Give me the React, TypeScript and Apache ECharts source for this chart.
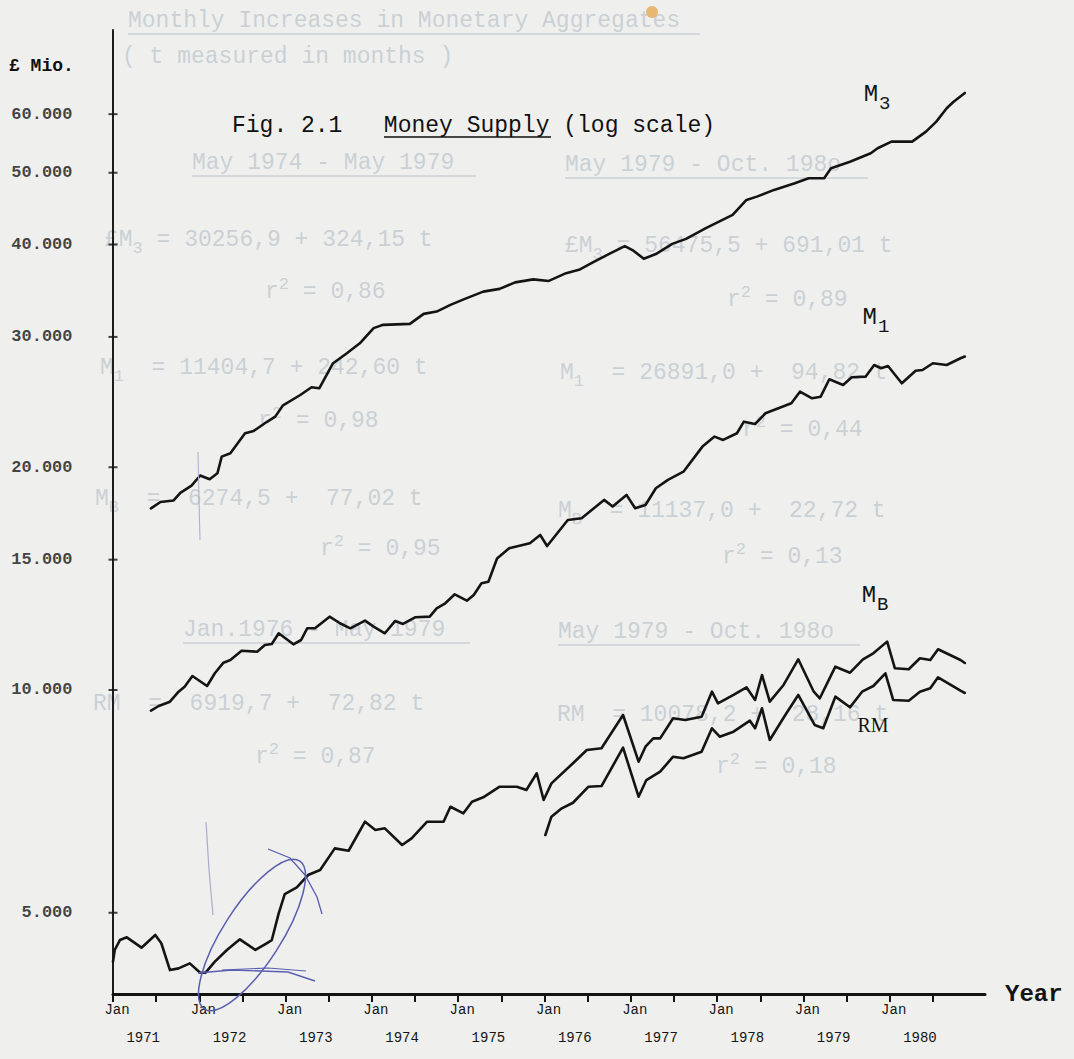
import React, { useEffect, useRef } from "react";
import * as echarts from "echarts";

// ---------------- data (values in £ million, dates in decimal years) ----------------
const m3Dates = [1971.44, 1971.55, 1971.70, 1971.78, 1971.91, 1972.01, 1972.12, 1972.21, 1972.26, 1972.36,
  1972.53, 1972.63, 1972.78, 1972.88, 1972.97, 1973.17, 1973.30, 1973.39, 1973.55, 1973.71,
  1973.86, 1974.02, 1974.13, 1974.44, 1974.60, 1974.75, 1974.91, 1975.07, 1975.29, 1975.48,
  1975.66, 1975.87, 1976.05, 1976.25, 1976.40, 1976.56, 1976.75, 1976.93, 1977.03, 1977.15,
  1977.29, 1977.48, 1977.64, 1977.87, 1978.18, 1978.34, 1978.46, 1978.66, 1978.90, 1979.06,
  1979.24, 1979.32, 1979.54, 1979.78, 1979.86, 1980.02, 1980.26, 1980.42, 1980.54, 1980.66,
  1980.74, 1980.87];
const m3Values = [17600, 17950, 18030, 18470, 18890, 19490, 19270, 19630, 20670, 20890,
  22230, 22390, 23020, 23410, 24250, 25040, 25650, 25570, 27640, 28510,
  29410, 30830, 31150, 31240, 32230, 32460, 33140, 33740, 34540, 34840,
  35550, 35880, 35710, 36580, 36960, 37830, 38840, 39800, 39230, 38270,
  38820, 40070, 40700, 42080, 43850, 45950, 46420, 47400, 48400, 49160,
  49160, 50700, 51750, 53120, 53960, 55080, 55080, 56820, 58620, 61110,
  62370, 64090];

const m1Dates = [1971.44, 1971.53, 1971.66, 1971.76, 1971.83, 1971.92, 1972.09, 1972.18, 1972.28, 1972.36,
  1972.49, 1972.67, 1972.76, 1972.84, 1972.92, 1973.09, 1973.18, 1973.25, 1973.34, 1973.51,
  1973.63, 1973.75, 1973.92, 1974.02, 1974.15, 1974.27, 1974.36, 1974.50, 1974.67, 1974.75,
  1974.85, 1974.96, 1975.10, 1975.18, 1975.27, 1975.35, 1975.45, 1975.59, 1975.83, 1975.95,
  1976.03, 1976.27, 1976.43, 1976.69, 1976.79, 1976.95, 1977.05, 1977.17, 1977.29, 1977.43,
  1977.61, 1977.83, 1977.97, 1978.07, 1978.23, 1978.31, 1978.44, 1978.56, 1978.86, 1978.96,
  1979.10, 1979.20, 1979.30, 1979.46, 1979.56, 1979.72, 1979.82, 1979.90, 1979.98, 1980.14,
  1980.30, 1980.38, 1980.50, 1980.66, 1980.82, 1980.87];
const m1Values = [9376, 9514, 9642, 9947, 10100, 10445, 10125, 10533, 10887, 10978,
  11300, 11265, 11500, 11538, 11930, 11527, 11683, 12116, 12116, 12563,
  12308, 12116, 12407, 12177, 11930, 12396, 12281, 12539, 12563, 12894,
  13096, 13468, 13203, 13439, 13937, 14007, 15055, 15540, 15784, 16198,
  15651, 16970, 17060, 18067, 17694, 18350, 17605, 17783, 18736, 19226,
  19724, 21325, 21998, 21773, 22232, 23045, 22880, 23656, 24403, 25299,
  24785, 24909, 26295, 25833, 26460, 26509, 27492, 27211, 27407, 25971,
  27008, 27067, 27638, 27492, 28070, 28228];

const mbDates = [1971.00, 1971.02, 1971.08, 1971.16, 1971.33, 1971.49, 1971.56, 1971.66, 1971.76, 1971.89,
  1972.01, 1972.07, 1972.18, 1972.32, 1972.47, 1972.65, 1972.78, 1972.84, 1972.92, 1972.99,
  1973.13, 1973.26, 1973.40, 1973.57, 1973.73, 1973.92, 1974.04, 1974.15, 1974.35, 1974.46,
  1974.64, 1974.83, 1974.91, 1975.06, 1975.16, 1975.29, 1975.48, 1975.68, 1975.79, 1975.91,
  1975.99, 1976.08, 1976.33, 1976.49, 1976.66, 1976.91, 1977.09, 1977.17, 1977.26, 1977.34,
  1977.49, 1977.63, 1977.82, 1977.94, 1978.01, 1978.19, 1978.34, 1978.44, 1978.52, 1978.61,
  1978.77, 1978.94, 1979.12, 1979.19, 1979.37, 1979.54, 1979.69, 1979.81, 1979.97, 1980.06,
  1980.22, 1980.35, 1980.47, 1980.56, 1980.82, 1980.87];
const mbValues = [4294, 4453, 4593, 4632, 4485, 4666, 4547, 4183, 4205, 4271,
  4148, 4148, 4294, 4453, 4603, 4453, 4547, 4593, 4991, 5299,
  5411, 5623, 5711, 6109, 6064, 6637, 6468, 6502, 6173, 6303,
  6637, 6637, 6954, 6813, 7063, 7161, 7401, 7401, 7325, 7717,
  7101, 7479, 7960, 8297, 8341, 9252, 8000, 8383, 8603, 8603,
  9157, 9109, 9203, 9947, 9594, 9846, 10084, 9694, 10478, 9642,
  10157, 11002, 9947, 9745, 10752, 10553, 11002, 11210, 11624, 10698,
  10665, 11037, 10978, 11350, 10978, 10877];

const rmDates = [1976.01, 1976.08, 1976.20, 1976.33, 1976.51, 1976.66, 1976.91, 1977.09, 1977.18, 1977.34,
  1977.49, 1977.61, 1977.82, 1977.94, 1978.03, 1978.19, 1978.38, 1978.44, 1978.52, 1978.61,
  1978.79, 1978.94, 1979.13, 1979.23, 1979.37, 1979.54, 1979.68, 1979.81, 1979.95, 1980.04,
  1980.22, 1980.35, 1980.47, 1980.56, 1980.82, 1980.87];
const rmValues = [6368, 6742, 6920, 7041, 7401, 7417, 8357, 7175, 7556, 7756,
  8125, 8085, 8253, 8877, 8647, 8783, 9089, 8877, 9447, 8558,
  9252, 9846, 8968, 8877, 9794, 9476, 9947, 10125, 10533, 9694,
  9672, 9947, 10053, 10403, 9978, 9907];

const yTickValues = [5000, 10000, 15000, 20000, 30000, 40000, 50000, 60000];
const yTickLabels = ["5.000", "10.000", "15.000", "20.000", "30.000", "40.000", "50.000", "60.000"];
const xTickValues = [1971, 1971.5, 1972, 1972.5, 1973, 1973.5, 1974, 1974.5, 1975, 1975.5,
  1976, 1976.5, 1977, 1977.5, 1978, 1978.5, 1979, 1979.5, 1980, 1980.5];
const xLabelYears = [1971, 1972, 1973, 1974, 1975, 1976, 1977, 1978, 1979, 1980];
// the year numbers are typed a few months to the right of each "Jan"
const yearLabelShift = 0.35;

// --------------------------------------------------------------------------------------
const MONO = '"Liberation Mono", "DejaVu Sans Mono", monospace';
const INK = "#141414";
const GHOST = "#cbd0d5";
const PEN = "#5a5eae";

const zip = (d: number[], v: number[]) => {
  const n = Math.min(d.length, v.length);
  const out: number[][] = [];
  for (let i = 0; i < n; i++) out.push([d[i], v[i]]);
  return out;
};

const subRich = (size: number, sub: number) => ({
  m: { fontSize: size, fontFamily: MONO, color: INK, lineHeight: size + 2 },
  s: { fontSize: sub, fontFamily: MONO, color: INK, lineHeight: sub + 2, padding: [18, 0, 0, 1] },
  r: { fontSize: 20, fontFamily: '"Liberation Serif", serif', color: INK },
});

const seriesLabel = (coord: number[], text: string) => ({
  symbol: "circle",
  symbolSize: 1,
  silent: true,
  itemStyle: { color: "rgba(0,0,0,0)" },
  label: {
    show: true,
    position: "inside",
    formatter: text,
    rich: subRich(24, 19),
  },
  data: [{ coord }],
});

const lineSeries = (name: string, data: number[][], mark: any) => ({
  type: "line",
  name,
  data,
  symbol: "none",
  showSymbol: false,
  smooth: false,
  lineStyle: { color: INK, width: 2.6, join: "round", cap: "round" },
  markPoint: mark,
  z: 3,
});

const ghostRich = {
  n: { fontSize: 23, fontFamily: MONO, fill: GHOST, color: GHOST },
  s: { fontSize: 17, fontFamily: MONO, fill: GHOST, color: GHOST, padding: [16, 0, 0, 0] },
  p: { fontSize: 17, fontFamily: MONO, fill: GHOST, color: GHOST, padding: [0, 0, 16, 0] },
};

const gText = (x: number, y: number, text: string) => ({
  type: "text",
  x,
  y,
  z: 0,
  silent: true,
  style: {
    text: text.indexOf("{") >= 0 ? text : `{n|${text}}`,
    rich: ghostRich,
    align: "left",
    verticalAlign: "middle",
    textAlign: "left",
    textVerticalAlign: "middle",
  },
});

const gLine = (x1: number, x2: number, y: number, color = GHOST, w = 1.6) => ({
  type: "line",
  z: 0,
  silent: true,
  shape: { x1, y1: y, x2, y2: y },
  style: { stroke: color, lineWidth: w },
});

const plainText = (x: number, y: number, text: string, size: number, weight = "normal", color = INK) => ({
  type: "text",
  x,
  y,
  z: 10,
  silent: true,
  style: {
    text,
    fill: color,
    fontSize: size,
    fontFamily: MONO,
    fontWeight: weight,
    align: "left",
    verticalAlign: "middle",
    textAlign: "left",
    textVerticalAlign: "middle",
  },
});

export default function App() {
  const ref = useRef<HTMLDivElement | null>(null);

  useEffect(() => {
    if (!ref.current) return;
    document.body.style.margin = "0";
    document.body.style.background = "#eff0ee";
    const chart = echarts.init(ref.current, undefined, { renderer: "svg" });

    const graphics: any[] = [
      // faint text showing through from the reverse page
      gText(128, 21, "Monthly Increases in Monetary Aggregates"),
      gLine(128, 700, 34),
      gText(122, 57, "( t measured in months )"),
      gText(192, 163, "May 1974 - May 1979"),
      gLine(192, 476, 176),
      gText(565, 165, "May 1979 - Oct. 198o"),
      gLine(565, 868, 178),
      gText(105, 240, "{n|£M}{s|3}{n| = 30256,9 + 324,15 t}"),
      gText(265, 292, "{n|r}{p|2}{n| = 0,86}"),
      gText(565, 246, "{n|£M}{s|3}{n| = 56475,5 + 691,01 t}"),
      gText(727, 300, "{n|r}{p|2}{n| = 0,89}"),
      gText(100, 368, "{n|M}{s|1}{n|  = 11404,7 + 242,60 t}"),
      gText(258, 421, "{n|r}{p|2}{n| = 0,98}"),
      gText(560, 373, "{n|M}{s|1}{n|  = 26891,0 +  94,82 t}"),
      gText(742, 430, "{n|r}{p|2}{n| = 0,44}"),
      gText(95, 499, "{n|M}{s|B}{n|  =  6274,5 +  77,02 t}"),
      gText(320, 549, "{n|r}{p|2}{n| = 0,95}"),
      gText(558, 511, "{n|M}{s|B}{n|  = 11137,0 +  22,72 t}"),
      gText(722, 557, "{n|r}{p|2}{n| = 0,13}"),
      gText(183, 630, "Jan.1976 - May 1979"),
      gLine(183, 470, 643),
      gText(558, 632, "May 1979 - Oct. 198o"),
      gLine(558, 860, 645),
      gText(93, 704, "RM  =  6919,7 +  72,82 t"),
      gText(255, 757, "{n|r}{p|2}{n| = 0,87}"),
      gText(557, 715, "RM  = 10078,2 +  28,16 t"),
      gText(716, 767, "{n|r}{p|2}{n| = 0,18}"),

      // title
      plainText(232, 126, "Fig. 2.1   Money Supply (log scale)", 23, "normal", "#111"),
      { type: "line", z: 10, silent: true, shape: { x1: 384, y1: 137, x2: 551, y2: 137 }, style: { stroke: "#111", lineWidth: 1.6 } },
      plainText(9, 66, "£ Mio.", 18, "bold", "#111"),

      // stain
      { type: "circle", z: 1, silent: true, shape: { cx: 652, cy: 12, r: 6 }, style: { fill: "#e6b872" } },

      // blue pen annotations
      {
        type: "ellipse", z: 6, silent: true, x: 252, y: 935, rotation: 1.0,
        shape: { cx: 0, cy: 0, rx: 88, ry: 29 },
        style: { fill: "none", stroke: PEN, lineWidth: 1.5 },
      },
      { type: "polyline", z: 6, silent: true, shape: { points: [[268, 849], [290, 858], [305, 875], [317, 897], [322, 914]] }, style: { stroke: PEN, lineWidth: 1.3, fill: "none" } },
      { type: "polyline", z: 6, silent: true, shape: { points: [[198, 973], [232, 970], [288, 972], [315, 981]] }, style: { stroke: PEN, lineWidth: 1.4, fill: "none" } },
      { type: "polyline", z: 6, silent: true, shape: { points: [[222, 970], [268, 968], [306, 971]] }, style: { stroke: PEN, lineWidth: 1.2, fill: "none" } },
      { type: "polyline", z: 6, silent: true, shape: { points: [[206, 822], [209, 870], [213, 915]] }, style: { stroke: "#a6acd0", lineWidth: 1.2, fill: "none" } },
      { type: "polyline", z: 6, silent: true, shape: { points: [[198, 452], [199, 500], [200, 540]] }, style: { stroke: "#aab2cf", lineWidth: 1.1, fill: "none" } },
    ];

    const option: any = {
      animation: false,
      backgroundColor: "#eff0ee",
      grid: { left: 113, top: 30, width: 872, height: 964, containLabel: false },
      xAxis: [
        {
          type: "value",
          min: 1971,
          max: 1981.104,
          position: "bottom",
          name: "Year",
          nameLocation: "end",
          nameGap: 20,
          nameTextStyle: { fontSize: 24, fontFamily: MONO, fontWeight: "bold", color: INK, verticalAlign: "middle" },
          axisLine: { show: true, onZero: false, lineStyle: { color: INK, width: 3 } },
          axisTick: { show: true, customValues: xTickValues, length: 8, lineStyle: { color: INK, width: 2 } },
          axisLabel: {
            show: true,
            customValues: xLabelYears,
            showMinLabel: true,
            showMaxLabel: true,
            hideOverlap: false,
            margin: 2,
            color: INK,
            formatter: () => "{a|Jan}",
            rich: {
              a: { fontSize: 14, fontFamily: MONO, color: INK, lineHeight: 28, padding: [0, 0, 0, 8] },
            },
          },
          splitLine: { show: false },
        },
        {
          type: "value",
          min: 1971,
          max: 1981.104,
          position: "bottom",
          offset: 0,
          axisLine: { show: false, onZero: false },
          axisTick: { show: false },
          axisLabel: {
            show: true,
            customValues: xLabelYears.map((y) => y + yearLabelShift),
            showMinLabel: true,
            showMaxLabel: true,
            hideOverlap: false,
            margin: 36,
            color: INK,
            fontSize: 14,
            fontFamily: MONO,
            lineHeight: 16,
            formatter: (v: number) => String(Math.floor(v + 1e-6)),
          },
          splitLine: { show: false },
        },
      ],
      yAxis: {
        type: "log",
        logBase: 10,
        min: 3883,
        max: 77960,
        axisLine: { show: true, lineStyle: { color: "#1d1d1d", width: 2 } },
        axisTick: { show: false },
        axisLabel: { show: false },
        splitLine: { show: false },
      },
      series: [
        lineSeries("M3", zip(m3Dates, m3Values), seriesLabel([1979.853, 63690], "{m|M}{s|3}")),
        lineSeries("M1", zip(m1Dates, m1Values), seriesLabel([1979.841, 31830], "{m|M}{s|1}")),
        lineSeries("MB", zip(mbDates, mbValues), seriesLabel([1979.83, 13400], "{m|M}{s|B}")),
        lineSeries("RM", zip(rmDates, rmValues), seriesLabel([1979.807, 8968], "{r|RM}")),
        {
          type: "scatter",
          name: "yTicks",
          data: yTickValues.map((v) => [1971, v]),
          symbol: "rect",
          symbolSize: [9, 2],
          itemStyle: { color: INK },
          clip: false,
          silent: true,
          z: 5,
          label: {
            show: true,
            position: "left",
            distance: 36,
            fontSize: 17,
            fontFamily: MONO,
            fontWeight: "bold",
            color: INK,
            formatter: (p: any) => yTickLabels[p.dataIndex],
          },
        },
      ],
      graphic: { elements: graphics },
    };

    chart.setOption(option);
    return () => chart.dispose();
  }, []);

  return (
    <div
      ref={ref}
      style={{ position: "fixed", left: 0, top: 0, width: 1074, height: 1059, background: "#eff0ee" }}
    />
  );
}
